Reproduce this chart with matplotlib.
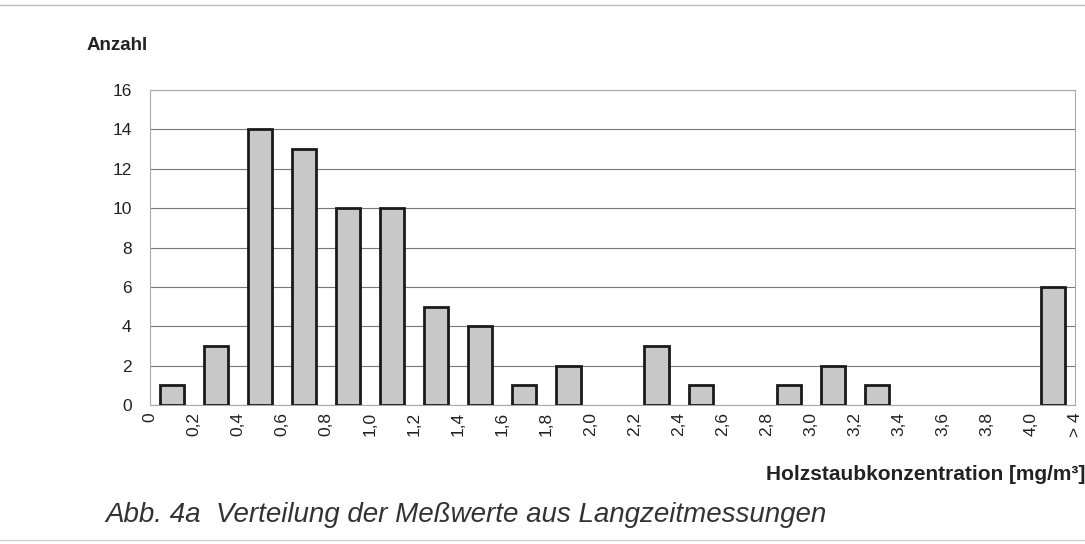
import matplotlib
matplotlib.use("Agg")
import matplotlib.pyplot as plt
from matplotlib.lines import Line2D

tick_labels = ["0", "0,2", "0,4", "0,6", "0,8", "1,0", "1,2", "1,4", "1,6", "1,8", "2,0",
               "2,2", "2,4", "2,6", "2,8", "3,0", "3,2", "3,4", "3,6", "3,8", "4,0", "> 4"]
counts = [1, 3, 14, 13, 10, 10, 5, 4, 1, 2, 0, 3, 1, 0, 1, 2, 1, 0, 0, 0, 6]
y_ticks = [0, 2, 4, 6, 8, 10, 12, 14, 16]

plt.rcParams['font.family'] = ['Liberation Sans', 'DejaVu Sans']

fig = plt.figure(figsize=(10.85, 5.44), dpi=100)
ax = fig.add_axes([0.138, 0.2555, 0.853, 0.579])

centers = [i + 0.5 for i in range(len(counts)) if counts[i] > 0]
heights = [c for c in counts if c > 0]
ax.bar(centers, heights, width=0.55, color="#c8c8c8", edgecolor="#1a1a1a", linewidth=2, zorder=3)

ax.set_xlim(0, len(counts))
ax.set_ylim(0, 16)
ax.set_yticks(y_ticks)
ax.set_yticklabels([str(v) for v in y_ticks], fontsize=12.5)
ax.set_xticks(range(len(tick_labels)))
ax.set_xticklabels(tick_labels, rotation=90, fontsize=12.5)
ax.tick_params(axis="y", length=0, pad=13, colors="#222222")
ax.tick_params(axis="x", length=0, pad=5, colors="#222222")
ax.grid(axis="y", color="#777777", linewidth=0.8, zorder=0)
for s in ax.spines.values():
    s.set_color("#aaaaaa")
    s.set_linewidth(0.8)

fig.text(87 / 1085, 1 - 45 / 544, "Anzahl", fontsize=13.5, fontweight="bold", color="#222222", va="center")
fig.text(766 / 1085, 1 - 474 / 544, "Holzstaubkonzentration [mg/m³]", fontsize=15,
         fontweight="bold", color="#222222", va="center")
fig.text(105 / 1085, 1 - 515 / 544, "Abb. 4a  Verteilung der Meßwerte aus Langzeitmessungen",
         fontsize=20, fontstyle="italic", color="#333333", va="center")

fig.add_artist(Line2D([0, 1], [1 - 5 / 544, 1 - 5 / 544], color="#bbbbbb", linewidth=1))
fig.add_artist(Line2D([0, 1], [1 - 540 / 544, 1 - 540 / 544], color="#cccccc", linewidth=1))

fig.savefig("out.png", dpi=100, facecolor="white")
